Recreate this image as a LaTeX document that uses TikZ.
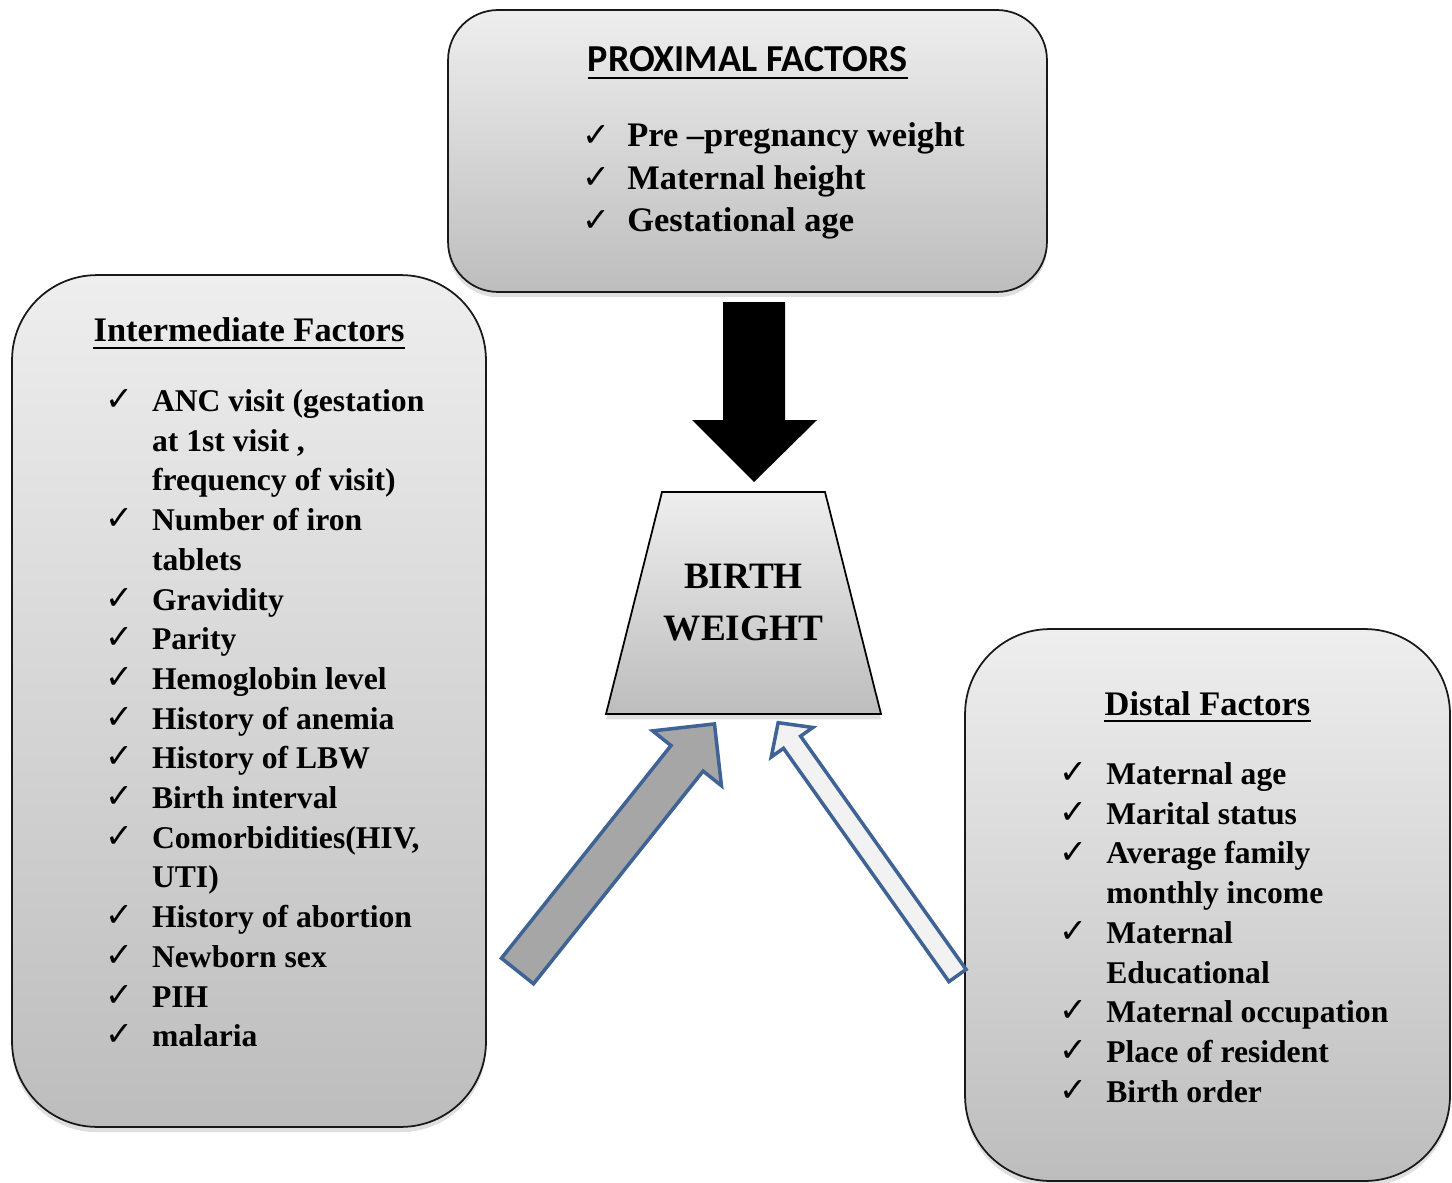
\documentclass[tikz,border=0pt]{standalone}
\usepackage{fontspec}
\setmainfont{Liberation Serif}
\newfontfamily\calibfont{Carlito}
\newfontfamily\checkfont{DejaVu Sans}
\usetikzlibrary{shadows,calc}
\definecolor{boxtop}{RGB}{238,238,238}
\definecolor{boxbot}{RGB}{189,189,189}
\definecolor{arrowblue}{RGB}{62,99,148}
\definecolor{darkarrow}{RGB}{166,166,166}
\definecolor{lightarrow}{RGB}{242,242,242}
\begin{document}
\begin{tikzpicture}[x=0.02cm,y=-0.02cm,
  factorbox/.style={draw=black!90, line width=1pt, top color=boxtop, bottom color=boxbot,
    inner sep=0pt, drop shadow={shadow xshift=0pt, shadow yshift=-3pt, opacity=0.25}},
  itemtext/.style={anchor=base west, inner sep=0pt, font=\bfseries\fontsize{18pt}{22pt}\selectfont},
  proxtext/.style={anchor=base west, inner sep=0pt, font=\bfseries\fontsize{19.6pt}{24pt}\selectfont},
  checkmark/.style={anchor=base west, inner sep=0pt, yshift=0.5pt, text=black, font=\checkfont\fontsize{19pt}{24pt}\selectfont},
  titletext/.style={anchor=base, inner sep=0pt, font=\bfseries\fontsize{19.6pt}{24pt}\selectfont},
  ulinestyle/.style={line width=1.1pt},
  blockarrow/.style={draw=arrowblue, line width=2pt, miter limit=10},
]
\useasboundingbox (0,0) rectangle (1452,1182);
\fill[white] (0,0) rectangle (1452,1182);

% boxes
\node[factorbox, rounded corners=1cm, minimum width=11.98cm, minimum height=5.64cm] (prox) at (747.5,151) {};
\node[factorbox, rounded corners=1.7cm, minimum width=9.48cm, minimum height=17.04cm] (inter) at (249,701) {};
\node[factorbox, rounded corners=1.7cm, minimum width=9.7cm, minimum height=11.04cm] (dist) at (1207.5,905) {};

% proximal
\node[anchor=base, inner sep=0pt, font=\calibfont\bfseries\fontsize{21.7pt}{24pt}\selectfont] (proxtitle) at (747.5,72) {PROXIMAL FACTORS};
\draw[ulinestyle] ($(proxtitle.base west)+(0,6)$) -- ($(proxtitle.base east)+(0,6)$);
\foreach \t [count=\i] in {Pre –pregnancy weight, Maternal height, Gestational age}{
  \node[checkmark] (proxc-\i) at (582,{147+(\i-1)*42.5}) {✓};
  \node[proxtext] (proxi-\i) at (627,{147+(\i-1)*42.5}) {\t};
}

% intermediate
\node[titletext] (intertitle) at (249,341.7) {Intermediate Factors};
\draw[ulinestyle] ($(intertitle.base west)+(0,6)$) -- ($(intertitle.base east)+(0,6)$);
\foreach \t/\c [count=\i] in {{ANC visit (gestation}/1, {at 1st visit ,}/0, {frequency of visit)}/0,
  {Number of iron}/1, {tablets}/0, {Gravidity}/1, {Parity}/1, {Hemoglobin level}/1,
  {History of anemia}/1, {History of LBW}/1, {Birth interval}/1, {Comorbidities(HIV,}/1,
  {UTI)}/0, {History of abortion}/1, {Newborn sex}/1, {PIH}/1, {malaria}/1}{
  \node[itemtext] (inti-\i) at (151.7,{411.5+(\i-1)*39.7}) {\t};
  \ifnum\c=1 \node[checkmark] (intc-\i) at (105,{411.5+(\i-1)*39.7}) {✓};\fi
}

% distal
\node[titletext] (disttitle) at (1207.5,715) {Distal Factors};
\draw[ulinestyle] ($(disttitle.base west)+(0,6)$) -- ($(disttitle.base east)+(0,6)$);
\foreach \t/\c [count=\i] in {{Maternal age}/1, {Marital status}/1, {Average family}/1,
  {monthly income}/0, {Maternal}/1, {Educational}/0, {Maternal occupation}/1,
  {Place of resident}/1, {Birth order}/1}{
  \node[itemtext] (disti-\i) at (1106,{784.5+(\i-1)*39.7}) {\t};
  \ifnum\c=1 \node[checkmark] (distc-\i) at (1059,{784.5+(\i-1)*39.7}) {✓};\fi
}

% birth weight trapezium
\path[draw=black, line width=1pt, top color=boxtop, bottom color=boxbot,
  drop shadow={shadow xshift=0pt, shadow yshift=-3pt, opacity=0.25}]
  (662,492) coordinate (bwtl) -- (825,492) coordinate (bwtr) -- (881,714) coordinate (bwbr) -- (606,714) coordinate (bwbl) -- cycle;
\node[align=center, inner sep=0pt, font=\bfseries\fontsize{21.2pt}{29.6pt}\selectfont] (bw) at (743.5,603) {BIRTH\\WEIGHT};

% black arrow from proximal to birth weight
\coordinate (blacktail) at (754,302);
\fill[black] ($(blacktail)+(-31,0)$) -- ($(blacktail)+(31,0)$) -- ($(blacktail)+(31,118)$) -- ($(blacktail)+(63,118)$)
  -- ($(blacktail)+(0,180)$) coordinate (blacktip) -- ($(blacktail)+(-62,118)$) -- ($(blacktail)+(-31,118)$) -- cycle;

% intermediate arrow
\coordinate (lefttail) at (517.5,971);
\begin{scope}[shift={(lefttail)}, rotate=51.44]
\draw[blockarrow, fill=darkarrow] (0,-20.5) -- (272,-20.5) -- (272,-44) -- (316,0) coordinate (lefttip) -- (272,44) -- (272,20.5) -- (0,20.5) -- cycle;
\end{scope}

% distal arrow
\coordinate (righttail) at (957.5,975.5);
\begin{scope}[shift={(righttail)}, rotate=125.35]
\draw[blockarrow, fill=lightarrow] (0,-10.5) -- (286,-10.5) -- (286,-25.5) -- (310,0) coordinate (righttip) -- (286,25.5) -- (286,10.5) -- (0,10.5) -- cycle;
\end{scope}
\end{tikzpicture}
\end{document}
